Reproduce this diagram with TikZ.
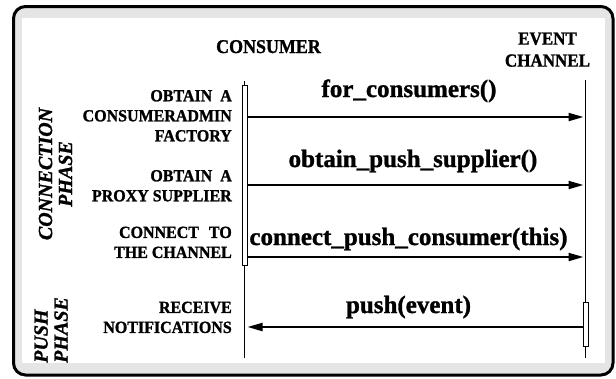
\documentclass[tikz,border=0pt]{standalone}
\usepackage{fontspec}
\setmainfont{Liberation Serif}[BoldFeatures={FakeBold=1.2}, BoldItalicFeatures={FakeBold=1.2}]
\newfontfamily\hdrfont{Liberation Serif Bold}[FakeStretch=0.92, FakeBold=1.2]
\newfontfamily\lblfont{Liberation Serif Bold}[FakeStretch=0.94, FakeBold=1.2]
\usetikzlibrary{arrows.meta}
\begin{document}
\begin{tikzpicture}[x=1pt,y=-1pt,
  lbl/.style={font=\lblfont\fontsize{17}{20}\selectfont, align=right, inner sep=0pt, anchor=south east},
  hdr/.style={font=\hdrfont\fontsize{19.5}{22}\selectfont, align=center, inner sep=0pt},
  msg/.style={font=\bfseries\fontsize{25}{30}\selectfont, inner sep=0pt, anchor=base},
  phase/.style={font=\bfseries\itshape\fontsize{20}{20}\selectfont, rotate=90, inner sep=0pt},
  life/.style={line width=1.2pt},
  act/.style={draw, fill=white, line width=1pt, minimum width=5pt, inner sep=0pt},
  arr/.style={line width=2pt, -{Triangle[length=15pt,width=8pt]}, shorten >=2pt},
]
\useasboundingbox (0,0) rectangle (616,378);
% frame
\draw[line width=3pt, fill=black!10, rounded corners=12pt] (13.5,6.5) rectangle (613,375);
\fill[white] (22,18) rectangle (605,363);

% headers
\node[hdr, anchor=base] (hcons) at (268.5,53) {CONSUMER};
\node[hdr, font=\hdrfont\fontsize{18.5}{22}\selectfont, anchor=south] (hchan) at (547.5,67) {EVENT\\CHANNEL};

% lifelines
\coordinate (ctop) at (244.5,81);
\coordinate (cbot) at (244.5,358);
\coordinate (etop) at (585.5,80);
\coordinate (ebot) at (585.5,358);
\draw[life] (ctop) -- (cbot);
\draw[life] (etop) -- (ebot);
\node[act, minimum height=180pt] (cact) at (244.5,175) {};
\node[act, minimum height=44pt] (eact) at (585.5,324) {};

% message points on the channel / consumer lifelines
\coordinate (e1) at (585.5,117);
\coordinate (e2) at (585.5,185);
\coordinate (e3) at (585.5,257);
\coordinate (c4) at (244.5,327);

\draw[arr] (cact.east |- e1) -- (e1);
\draw[arr] (cact.east |- e2) -- (e2);
\draw[arr] (cact.east |- e3) -- (e3);
\draw[arr, shorten >=3pt] (eact.west |- c4) -- (c4);

\node[msg] (m1) at (409,97) {for\_consumers()};
\node[msg] (m2) at (413,167) {obtain\_push\_supplier()};
\node[msg] (m3) at (408.5,245) {connect\_push\_consumer(this)};
\node[msg] (m4) at (408.5,313) {push(event)};

% left labels
\node[lbl] (l1) at (232,141.7) {OBTAIN\ \ A\\CONSUMERADMIN\\FACTORY};
\node[lbl] (l2) at (232,201.7) {OBTAIN\ \ A\\PROXY SUPPLIER};
\node[lbl] (l3) at (232,258.3) {CONNECT\hspace{10pt}TO\\THE CHANNEL};
\node[lbl] (l4) at (232,333.3) {RECEIVE\\NOTIFICATIONS};

% phases
\node[phase, align=center] (p1) at (55.5,174) {CONNECTION\\PHASE};
\node[phase, align=left, anchor=south west] (p2) at (68,363) {PUSH\\PHASE};
\end{tikzpicture}
\end{document}
